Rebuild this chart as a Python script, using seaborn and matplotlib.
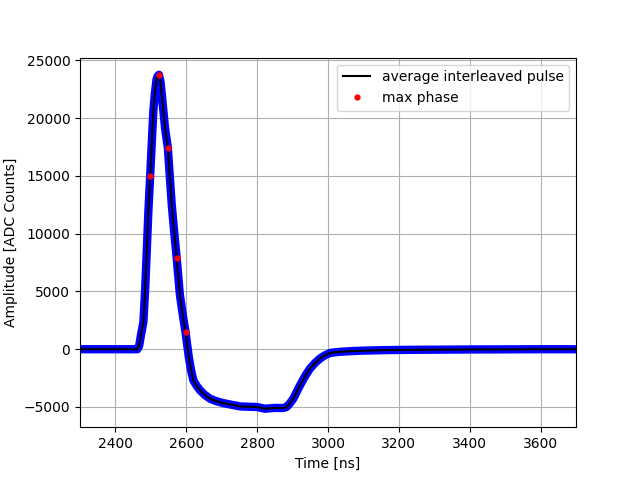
import matplotlib
matplotlib.use("Agg")
import matplotlib.pyplot as plt
import seaborn as sns
import pandas as pd

# average interleaved pulse (time in ns, ADC counts)
pulse_time = [2300, 2400, 2462, 2467, 2472, 2479, 2484, 2488, 2493, 2498, 2503,
              2507, 2511, 2516, 2519, 2523, 2527, 2530, 2535, 2540, 2548, 2559,
              2566, 2573, 2582, 2590, 2598, 2607, 2614, 2620, 2630, 2639, 2652,
              2667, 2685, 2704, 2730, 2752, 2775, 2799, 2822, 2850, 2874, 2883,
              2892, 2902, 2921, 2935, 2949, 2963, 2977, 2990, 3006, 3030, 3062,
              3100, 3156, 3230, 3300, 3400, 3500, 3600, 3700]
pulse_amp = [0, 0, 0, 300, 1215, 2370, 5270, 8160, 11920, 15000, 18100,
             20600, 22050, 23350, 23640, 23760, 23200, 22340, 20750, 19160, 17420, 12500,
             10100, 7870, 4690, 3000, 1450, -660, -1900, -2690, -3200, -3560, -3950,
             -4280, -4500, -4660, -4820, -4950, -4980, -5000, -5150, -5080, -5090, -5000,
             -4700, -4280, -3125, -2350, -1680, -1200, -810, -550, -320, -230, -170,
             -120, -80, -50, -40, -20, -10, 0, 0]

# max phase samples
phase_time = [2498, 2523, 2548, 2573, 2598]
phase_amp = [14960, 23760, 17420, 7870, 1450]

pulse = pd.DataFrame({"time": pulse_time, "amp": pulse_amp})
phase = pd.DataFrame({"time": phase_time, "amp": phase_amp})

fig, ax = plt.subplots(figsize=(6.4, 4.8), dpi=100)

# interleaved samples drawn as a blue band behind the average
ax.plot(pulse["time"], pulse["amp"], color="blue", lw=6, zorder=2)
sns.lineplot(data=pulse, x="time", y="amp", ax=ax, color="black", lw=1.5,
             sort=False, estimator=None, label="average interleaved pulse",
             zorder=3)
ax.plot(phase["time"], phase["amp"], "r.", ms=7, label="max phase", zorder=4)

ax.set_xlim(2300, 3700)
ax.set_ylim(-6750, 25250)
ax.set_xlabel("Time [ns]")
ax.set_ylabel("Amplitude [ADC Counts]")
ax.grid(True)
ax.legend(loc="upper right")

fig.savefig("out.png", dpi=100)
